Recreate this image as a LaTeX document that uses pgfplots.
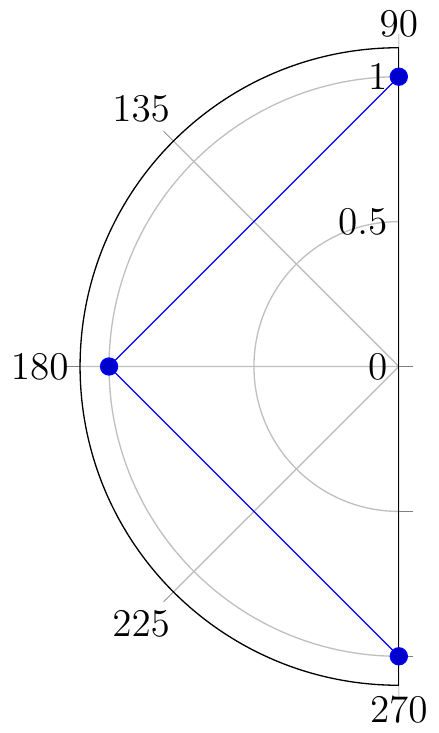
\documentclass[border=0pt]{standalone}
\usepackage{pgfplots}
\pgfplotsset{compat=1.18}
\usepgfplotslibrary{polar}
\begin{document}
\begin{tikzpicture}
\begin{polaraxis}[
    xmin=90, xmax=270,
    xtick={90,135,180,225,270},
    tick label style={font=\large},
    grid=major,
]
\addplot+[mark size=2.6pt] coordinates {(90,1) (180,1) (270,1)};
\end{polaraxis}
\end{tikzpicture}
\end{document}
